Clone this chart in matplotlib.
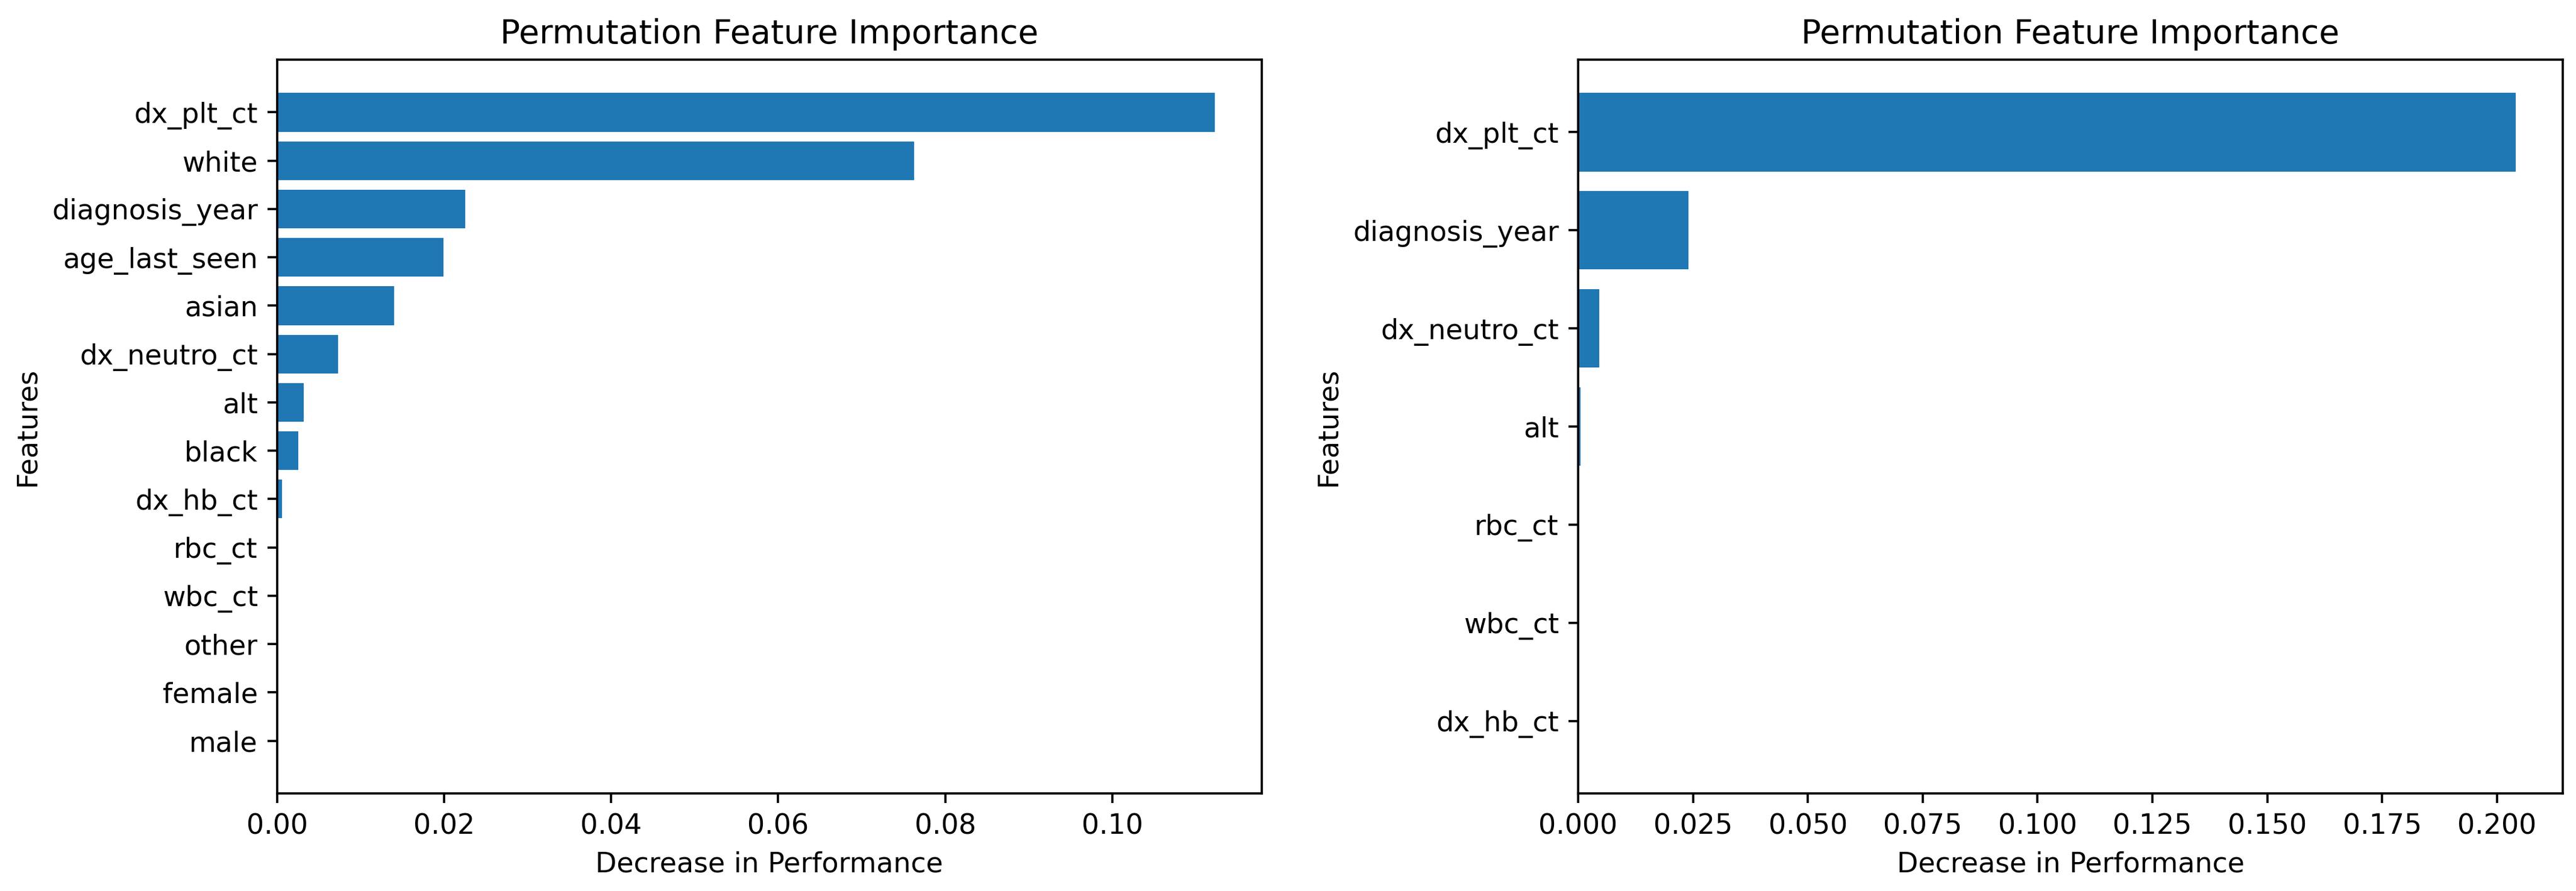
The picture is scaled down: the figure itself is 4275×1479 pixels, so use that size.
import matplotlib
matplotlib.use("Agg")
import matplotlib.pyplot as plt

# Left panel data (top to bottom)
left_features = ["dx_plt_ct", "white", "diagnosis_year", "age_last_seen", "asian",
                 "dx_neutro_ct", "alt", "black", "dx_hb_ct", "rbc_ct", "wbc_ct",
                 "other", "female", "male"]
left_values = [0.1123, 0.0763, 0.0225, 0.0199, 0.0140, 0.0073, 0.0032, 0.0025,
               0.0006, 0.0, 0.0, 0.0, 0.0, 0.0]

# Right panel data (top to bottom)
right_features = ["dx_plt_ct", "diagnosis_year", "dx_neutro_ct", "alt", "rbc_ct",
                  "wbc_ct", "dx_hb_ct"]
right_values = [0.2041, 0.0240, 0.0046, 0.0005, 0.0, 0.0, 0.0]

DPI = 330
W, H = 4275, 1479
fig = plt.figure(figsize=(W / DPI, H / DPI), dpi=DPI)
ax1 = fig.add_axes([460/W, 1-1317/H, (2094-460)/W, (1317-99)/H])
ax2 = fig.add_axes([2619/W, 1-1317/H, (4253-2619)/W, (1317-99)/H])

for ax, feats, vals in [(ax1, left_features, left_values), (ax2, right_features, right_values)]:
    ax.barh(feats[::-1], vals[::-1], color="#1f77b4")
    ax.set_title("Permutation Feature Importance", fontsize=12)
    ax.set_xlabel("Decrease in Performance", fontsize=10)
    ax.set_ylabel("Features", fontsize=10)
    ax.set_xlim(0, max(vals) * 1.05)

fig.savefig("out.png", dpi=DPI)
